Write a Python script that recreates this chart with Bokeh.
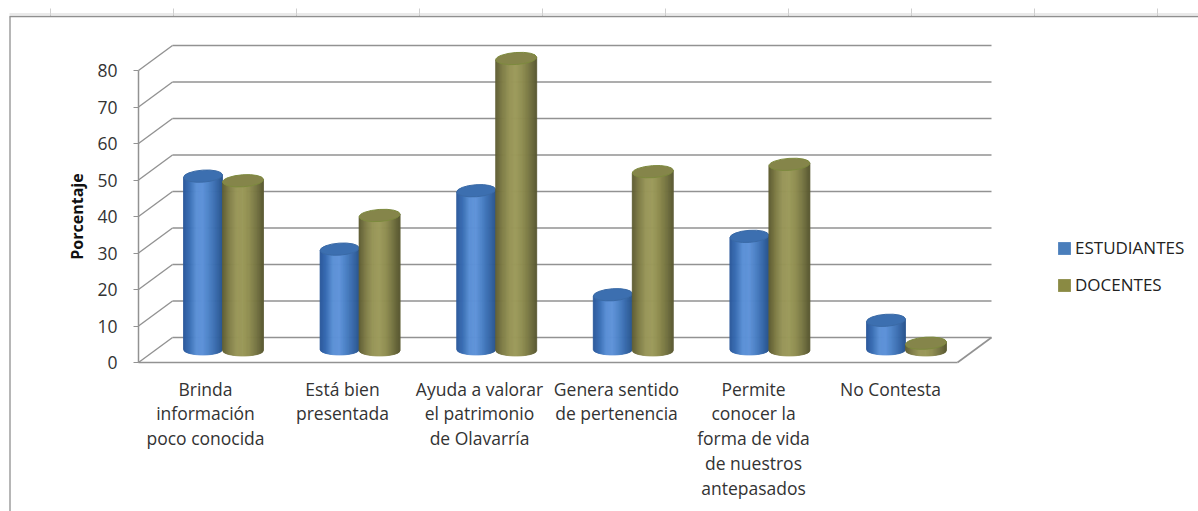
import numpy as np
from bokeh.plotting import figure
from bokeh.embed import file_html
from bokeh.resources import INLINE
from bokeh.models import Range1d, LinearAxis, FixedTicker, Legend, LegendItem

categories = ["Brinda\ninformación\npoco conocida", "Está bien\npresentada",
              "Ayuda a valorar\nel patrimonio\nde Olavarría", "Genera sentido\nde pertenencia",
              "Permite\nconocer la\nforma de vida\nde nuestros\nantepasados", "No Contesta"]
estudiantes = [47.5, 27.5, 43.5, 15, 31, 8]
docentes = [46.5, 37, 80, 49, 51, 2]
y_ticks = [0, 10, 20, 30, 40, 50, 60, 70, 80]
series_names = ["ESTUDIANTES", "DOCENTES"]

W, H = 1198, 511
FONT = "Open Sans"
PX = 3.65            # pixels per percent
Y0 = 362             # page pixel of value 0 on the front plane
val = lambda ypx: (Y0 - ypx) / PX

p = figure(width=W, height=H, output_backend="svg", toolbar_location=None,
           x_range=Range1d(0, W), y_range=Range1d(val(H), val(0)),
           x_axis_type=None, y_axis_type=None, min_border=0,
           background_fill_color="white", border_fill_color="white", outline_line_color=None)
p.grid.visible = False

# sheet ruler + chart frame
ruler_x = [50 + 123 * i for i in range(10)]
p.segment(ruler_x, [val(8)] * 10, ruler_x, [val(16)] * 10, line_color="#cfcfcf", line_width=1)
p.segment([9], [val(13.5)], [W], [val(13.5)], line_color="#d4d4d4", line_width=1)
p.segment([9], [val(16)], [W], [val(16)], line_color="#8f8f8f", line_width=1.3)
p.segment([9.5], [val(16)], [9.5], [val(H)], line_color="#8f8f8f", line_width=1.3)

# 3D box
LEFT, RIGHT, DX = 138, 957, 34
DV = 25 / PX
GRID = "#929292"
back_v = [v + DV for v in y_ticks]
p.segment([LEFT + DX] * 9, back_v, [RIGHT + DX] * 9, back_v, line_color=GRID, line_width=1.6)
p.segment([LEFT] * 9, y_ticks, [LEFT + DX] * 9, back_v, line_color=GRID, line_width=1.4)
p.segment([LEFT, RIGHT], [0, 0], [RIGHT, RIGHT + DX], [0, DV], line_color=GRID, line_width=1.6)

STEP = 136.6


def ramp(stops, n=40):
    pos = np.linspace(0, 1, len(stops))
    rgb = np.array([[int(c[i:i + 2], 16) for i in (1, 3, 5)] for c in stops], dtype=float)
    t = np.linspace(0, 1, n)
    return ["#%02x%02x%02x" % tuple(int(round(np.interp(u, pos, rgb[:, k]))) for k in range(3)) for u in t]


def cylinder(cx, v, w, base_px, shades, top_fill, top_line):
    rx, ry = w / 2, 5.5
    base_v = val(base_px)
    top_v = base_v + v
    n = len(shades)
    tilt = 0.07
    xs, ys = [], []
    for k in range(n):
        x0 = cx - rx + w * k / n
        x1 = cx - rx + w * (k + 1) / n
        t0 = (x0 - cx) / rx
        t1 = (x1 - cx) / rx
        b0 = base_v - (ry * np.sqrt(max(0, 1 - t0 ** 2))) / PX
        b1 = base_v - (ry * np.sqrt(max(0, 1 - t1 ** 2))) / PX
        xs.append([x0, x1, x1, x0])
        ys.append([b0, b1, top_v + tilt * (x1 - cx) / PX, top_v + tilt * (x0 - cx) / PX])
    p.patches(xs, ys, fill_color=shades, line_color=shades, line_width=0.8)
    p.ellipse([cx], [top_v], width=w, height=2 * ry + 1, angle=0.07,
              width_units="screen", height_units="screen",
              fill_color=top_fill, line_color=top_line, line_width=1)


BLUE = ramp(["#2d5a9c", "#3a6fb6", "#5b90d6", "#5f93d9", "#4c82c6", "#3a6cae", "#2b5790"])
OLIVE = ramp(["#5f5e34", "#7f7d47", "#979558", "#9c9a5b", "#8f8d50", "#777643", "#5c5b33"])

for i, (a, b) in enumerate(zip(estudiantes, docentes)):
    cylinder(202.5 + STEP * i, a, 39, 349, BLUE, "#3c6fb0", "#3a6aa6")
    cylinder(242.5 + STEP * i, b, 41, 350, OLIVE, "#85854a", "#7d8a3e")

# axes
yaxis = LinearAxis(fixed_location=LEFT, bounds=(0, 80), ticker=FixedTicker(ticks=y_ticks),
                   axis_label="Porcentaje", axis_label_text_font=FONT,
                   axis_label_text_font_size="16px", axis_label_text_font_style="bold",
                   axis_label_text_color="#111111", axis_label_standoff=6,
                   major_label_text_font=FONT, major_label_text_font_size="17.5px",
                   major_label_text_color="#333333", major_label_standoff=16,
                   axis_line_color=GRID, axis_line_width=1.5,
                   major_tick_line_color=GRID, major_tick_out=5, major_tick_in=0,
                   minor_tick_line_color=None)
p.add_layout(yaxis, "left")

label_x = [LEFT + 67 + 137 * i for i in range(len(categories))]
xaxis = LinearAxis(fixed_location=0, bounds=(LEFT, RIGHT), ticker=FixedTicker(ticks=label_x),
                   major_label_overrides={float(x): c for x, c in zip(label_x, categories)},
                   major_label_text_font=FONT, major_label_text_font_size="17.5px",
                   major_label_text_color="#333333", major_label_text_line_height=1.04,
                   major_label_standoff=8, axis_line_color=None,
                   major_tick_line_color=None, minor_tick_line_color=None)
p.add_layout(xaxis, "below")

# legend
r1 = p.quad(left=[np.nan], right=[np.nan], top=[np.nan], bottom=[np.nan], fill_color="#4a7ebb", line_color=None)
r2 = p.quad(left=[np.nan], right=[np.nan], top=[np.nan], bottom=[np.nan], fill_color="#8a8a43", line_color=None)
legend = Legend(items=[LegendItem(label=series_names[0], renderers=[r1]),
                       LegendItem(label=series_names[1], renderers=[r2])],
                location=(1056, 215), background_fill_alpha=0, border_line_color=None,
                label_text_font=FONT, label_text_font_size="17px", label_text_color="#222222",
                glyph_width=16, glyph_height=16, label_standoff=3, spacing=14, padding=8, margin=0)
p.add_layout(legend, "center")

open("out.html", "w").write(file_html(p, INLINE))
